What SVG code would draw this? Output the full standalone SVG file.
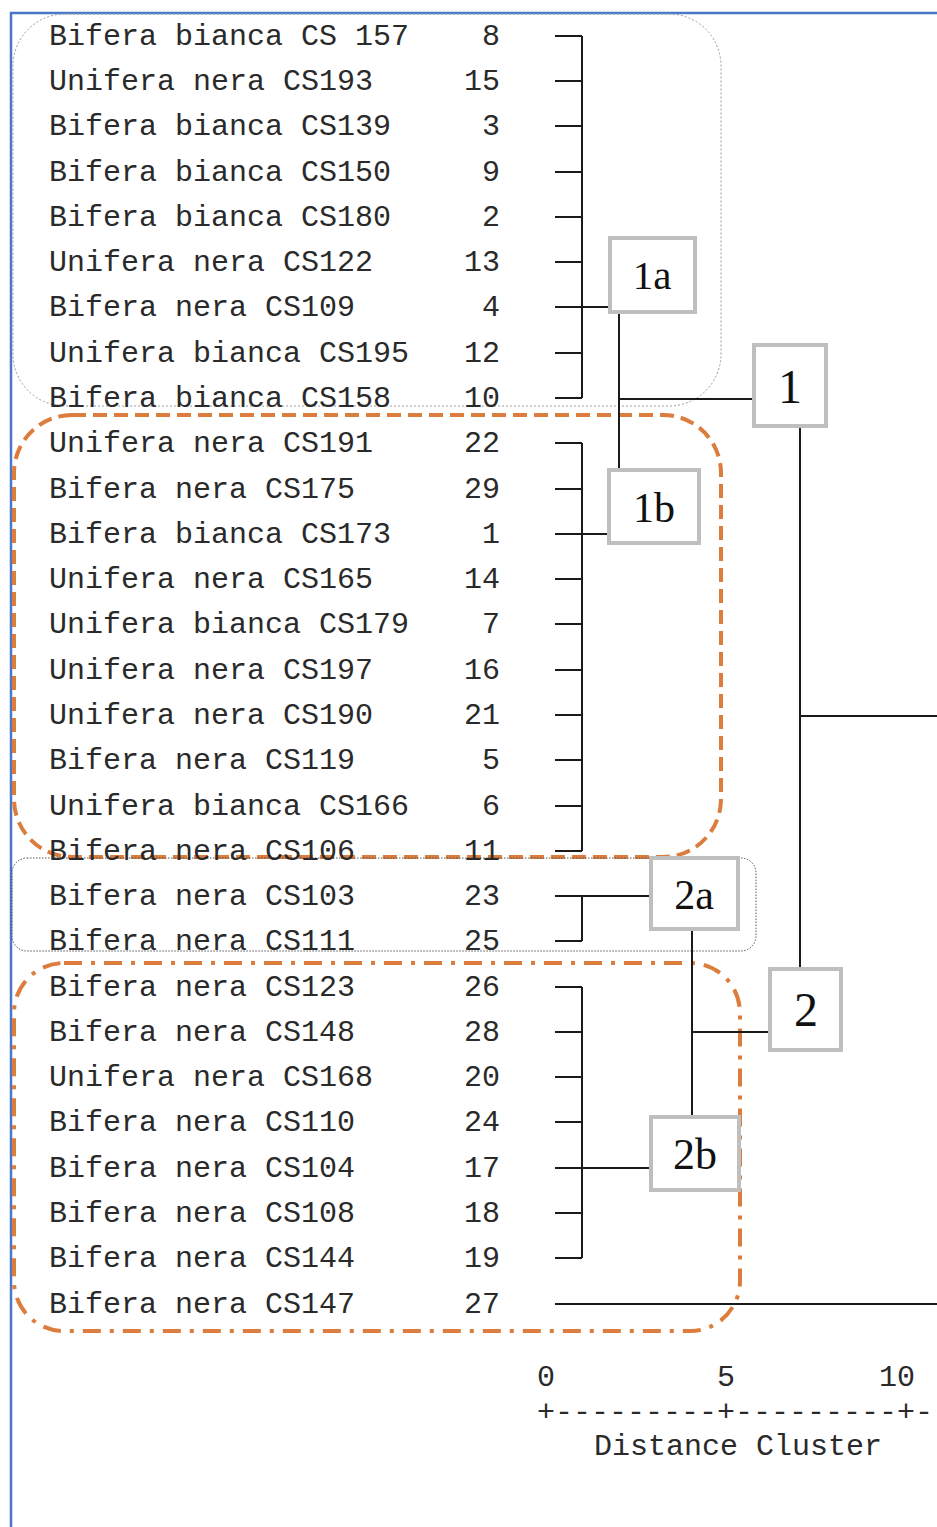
<svg xmlns="http://www.w3.org/2000/svg" width="937" height="1527" viewBox="0 0 937 1527">
<style>
.t{font-family:"Liberation Mono","Courier New",monospace;font-size:30px;fill:#2a2a2a}
.n{font-family:"Liberation Mono","Courier New",monospace;font-size:30px;fill:#2a2a2a;text-anchor:end}
.lb{font-family:"Liberation Serif","Times New Roman",serif;fill:#111;text-anchor:middle}
.box{fill:#fff;stroke:#bfbfbf;stroke-width:4}
.ln{stroke:#1a1a1a;stroke-width:2;fill:none}
</style>
<rect width="937" height="1527" fill="#fff"/>
<g id="frame"><path d="M11 1527 V13 H937" fill="none" stroke="#4a78c8" stroke-width="2.5"/></g>
<g id="enclosures" fill="none">
<rect x="13" y="14" width="708" height="392" rx="52" stroke="#9a9a9a" stroke-width="1" stroke-dasharray="2 2"/>
<rect x="14" y="415" width="707" height="442" rx="58" stroke="#dd7d3d" stroke-width="4" stroke-dasharray="14 7"/>
<rect x="12" y="858" width="744" height="93" rx="15" stroke="#555" stroke-width="1" stroke-dasharray="1.5 1.5"/>
<rect x="14" y="963" width="726" height="368" rx="50" stroke="#dd7d3d" stroke-width="4" stroke-dasharray="18 9 4 9"/>
</g>
<g id="labels">
<text class="t" x="49" y="45">Bifera bianca CS 157</text><text class="n" x="500" y="45">8</text>
<text class="t" x="49" y="90">Unifera nera CS193</text><text class="n" x="500" y="90">15</text>
<text class="t" x="49" y="135">Bifera bianca CS139</text><text class="n" x="500" y="135">3</text>
<text class="t" x="49" y="181">Bifera bianca CS150</text><text class="n" x="500" y="181">9</text>
<text class="t" x="49" y="226">Bifera bianca CS180</text><text class="n" x="500" y="226">2</text>
<text class="t" x="49" y="271">Unifera nera CS122</text><text class="n" x="500" y="271">13</text>
<text class="t" x="49" y="316">Bifera nera CS109</text><text class="n" x="500" y="316">4</text>
<text class="t" x="49" y="362">Unifera bianca CS195</text><text class="n" x="500" y="362">12</text>
<text class="t" x="49" y="407">Bifera bianca CS158</text><text class="n" x="500" y="407">10</text>
<text class="t" x="49" y="452">Unifera nera CS191</text><text class="n" x="500" y="452">22</text>
<text class="t" x="49" y="498">Bifera nera CS175</text><text class="n" x="500" y="498">29</text>
<text class="t" x="49" y="543">Bifera bianca CS173</text><text class="n" x="500" y="543">1</text>
<text class="t" x="49" y="588">Unifera nera CS165</text><text class="n" x="500" y="588">14</text>
<text class="t" x="49" y="633">Unifera bianca CS179</text><text class="n" x="500" y="633">7</text>
<text class="t" x="49" y="679">Unifera nera CS197</text><text class="n" x="500" y="679">16</text>
<text class="t" x="49" y="724">Unifera nera CS190</text><text class="n" x="500" y="724">21</text>
<text class="t" x="49" y="769">Bifera nera CS119</text><text class="n" x="500" y="769">5</text>
<text class="t" x="49" y="815">Unifera bianca CS166</text><text class="n" x="500" y="815">6</text>
<text class="t" x="49" y="860">Bifera nera CS106</text><text class="n" x="500" y="860">11</text>
<text class="t" x="49" y="905">Bifera nera CS103</text><text class="n" x="500" y="905">23</text>
<text class="t" x="49" y="950">Bifera nera CS111</text><text class="n" x="500" y="950">25</text>
<text class="t" x="49" y="996">Bifera nera CS123</text><text class="n" x="500" y="996">26</text>
<text class="t" x="49" y="1041">Bifera nera CS148</text><text class="n" x="500" y="1041">28</text>
<text class="t" x="49" y="1086">Unifera nera CS168</text><text class="n" x="500" y="1086">20</text>
<text class="t" x="49" y="1131">Bifera nera CS110</text><text class="n" x="500" y="1131">24</text>
<text class="t" x="49" y="1177">Bifera nera CS104</text><text class="n" x="500" y="1177">17</text>
<text class="t" x="49" y="1222">Bifera nera CS108</text><text class="n" x="500" y="1222">18</text>
<text class="t" x="49" y="1267">Bifera nera CS144</text><text class="n" x="500" y="1267">19</text>
<text class="t" x="49" y="1313">Bifera nera CS147</text><text class="n" x="500" y="1313">27</text>
</g>
<g id="connectors" class="ln">
<path class="ln" d="M555 36H582M555 81H582M555 126H582M555 172H582M555 217H582M555 262H582M555 307H582M555 353H582M555 398H582M582 36V398M582 307H610"/>
<path class="ln" d="M555 443H582M555 489H582M555 534H582M555 579H582M555 624H582M555 670H582M555 715H582M555 760H582M555 806H582M555 851H582M582 443V851M582 534H608"/>
<path class="ln" d="M619 312V470M619 399H754"/>
<path class="ln" d="M800 426V968M800 716H937"/>
<path class="ln" d="M555 896H582M555 941H582M582 896V941M582 896H651"/>
<path class="ln" d="M555 987H582M555 1032H582M555 1077H582M555 1122H582M555 1168H582M555 1213H582M555 1258H582M582 987V1258M582 1168H651"/>
<path class="ln" d="M692 929V1117M692 1032H770"/>
<path class="ln" d="M555 1304H937"/>
</g>
<g id="node-1a"><rect class="box" x="610" y="238" width="85" height="74"/><text class="lb" x="652" y="289" font-size="41">1a</text></g>
<g id="node-1b"><rect class="box" x="609" y="470" width="90" height="73"/><text class="lb" x="654" y="522" font-size="42">1b</text></g>
<g id="node-1"><rect class="box" x="754" y="345" width="72" height="81"/><text class="lb" x="790" y="403" font-size="48">1</text></g>
<g id="node-2a"><rect class="box" x="651" y="858" width="87" height="71"/><text class="lb" x="694" y="909" font-size="42">2a</text></g>
<g id="node-2b"><rect class="box" x="651" y="1117" width="88" height="73"/><text class="lb" x="695" y="1169" font-size="44">2b</text></g>
<g id="node-2"><rect class="box" x="770" y="969" width="71" height="81"/><text class="lb" x="806" y="1026" font-size="48">2</text></g>
<g id="axis">
<text class="t" x="537" y="1386" xml:space="preserve">0         5        10</text>
<text class="t" x="537" y="1421" xml:space="preserve">+---------+---------+-</text>
<text class="t" x="594" y="1455">Distance Cluster</text>
</g>
</svg>
